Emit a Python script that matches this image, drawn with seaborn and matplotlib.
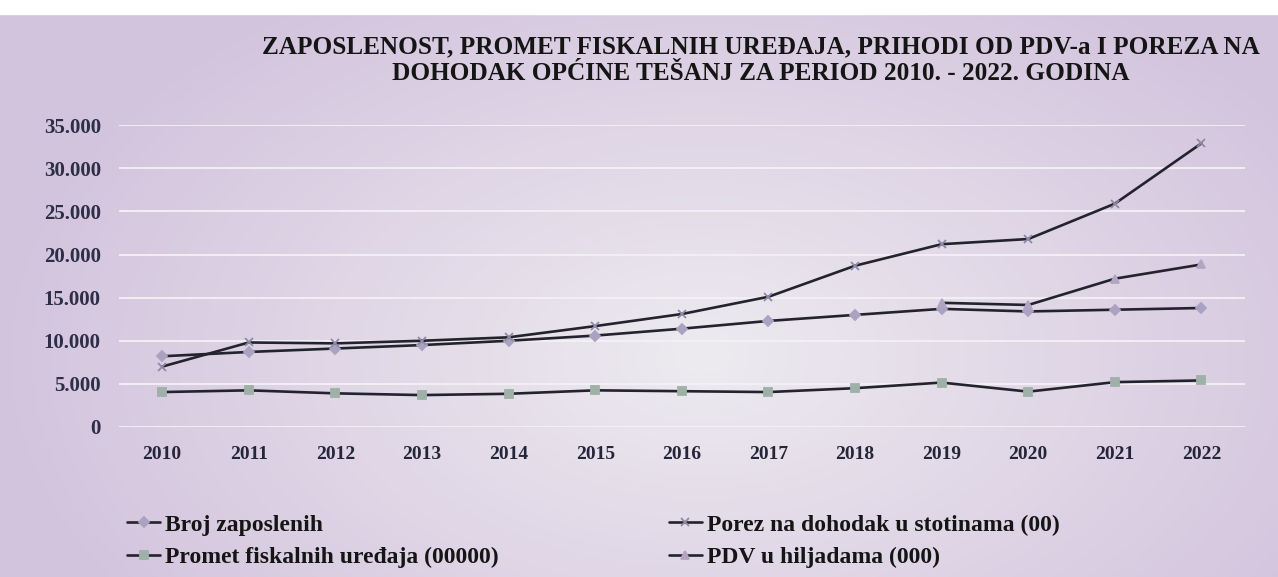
import numpy as np
import pandas as pd
import matplotlib
matplotlib.use('Agg')
import matplotlib.pyplot as plt
import seaborn as sns
from matplotlib.ticker import FuncFormatter, MultipleLocator

# ============================================================
# Podaci (očitano sa grafikona)
# ============================================================
godine = list(range(2010, 2023))
broj_zaposlenih = [8200, 8700, 9100, 9500, 10000, 10600, 11400, 12300, 13000, 13700, 13400, 13600, 13800]
promet_fiskalnih = [4050, 4250, 3900, 3700, 3850, 4250, 4150, 4050, 4500, 5150, 4100, 5200, 5400]
porez_dohodak = [7000, 9800, 9700, 10000, 10400, 11700, 13100, 15100, 18700, 21200, 21800, 25900, 32900]
pdv_hiljade = [np.nan] * 9 + [14400, 14150, 17200, 18850]

nazivi = ['Broj zaposlenih', 'Promet fiskalnih uređaja (00000)',
          'Porez na dohodak u stotinama (00)', 'PDV u hiljadama (000)']
naslov = ('ZAPOSLENOST, PROMET FISKALNIH UREĐAJA, PRIHODI OD PDV-a I POREZA NA\n'
          'DOHODAK OPĆINE TEŠANJ ZA PERIOD 2010. - 2022. GODINA')

df = pd.DataFrame({'godina': godine,
                   nazivi[0]: broj_zaposlenih,
                   nazivi[1]: promet_fiskalnih,
                   nazivi[2]: porez_dohodak,
                   nazivi[3]: pdv_hiljade})
long_df = df.melt(id_vars='godina', var_name='serija', value_name='vrijednost').dropna()
long_df['poz'] = long_df['godina'] - godine[0]

# ============================================================
# Stil
# ============================================================
sns.set_theme(style='white')
plt.rcParams['font.family'] = ['Liberation Serif', 'DejaVu Serif']

fig = plt.figure(figsize=(12.78, 5.77), dpi=100)

# pozadina (blijedo ljubičasta s svjetlijim središtem, kao na fotografiji)
bg = fig.add_axes([0, 0, 1, 1], zorder=-10)
yy, xx = np.mgrid[0:1:200j, 0:1:400j]
r = np.sqrt(((xx - 0.55) / 0.55) ** 2 + ((yy - 0.62) / 0.75) ** 2)
svijetlo = np.array([0.93, 0.92, 0.94])
tamno = np.array([0.83, 0.77, 0.87])
t = np.clip(r, 0, 1)[..., None]
bg.imshow(svijetlo * (1 - t) + tamno * t, aspect='auto', extent=[0, 1, 0, 1], origin='upper')
bg.axhspan(0.975, 1.0, color='white')
bg.set_xlim(0, 1); bg.set_ylim(0, 1)
bg.axis('off')

ax = fig.add_axes([0.093, 0.260, 0.881, 0.523])
ax.patch.set_alpha(0)

stilovi = {nazivi[0]: 'D', nazivi[1]: 's', nazivi[2]: 'x', nazivi[3]: '^'}
boje_markera = {nazivi[0]: '#a9a2c0', nazivi[1]: '#9fb0a8', nazivi[2]: '#8e8aa6', nazivi[3]: '#b3a4c4'}

for naziv in nazivi:
    sub = long_df[long_df['serija'] == naziv]
    sns.lineplot(data=sub, x='poz', y='vrijednost', ax=ax, color='#23232e', lw=1.9,
                 marker=stilovi[naziv], markersize=5.5, markerfacecolor=boje_markera[naziv],
                 markeredgecolor=boje_markera[naziv], markeredgewidth=1.3, label=naziv,
                 legend=False, zorder=3)

ax.set_xlim(-0.5, len(godine) - 0.5)
ax.set_ylim(0, 35000)
ax.yaxis.set_major_locator(MultipleLocator(5000))
ax.yaxis.set_major_formatter(FuncFormatter(lambda v, p: f'{int(v):,}'.replace(',', '.')))
ax.set_xticks(range(len(godine)))
ax.set_xticklabels([str(g) for g in godine])
ax.grid(axis='y', color='#f4f1f6', lw=1.3)
ax.grid(axis='x', visible=False)
for s in ax.spines.values():
    s.set_visible(False)
ax.tick_params(axis='y', length=0, pad=13, labelsize=15, labelcolor='#2e2e48')
ax.tick_params(axis='x', length=0, pad=14, labelsize=14, labelcolor='#26263a')
for lbl in ax.get_yticklabels() + ax.get_xticklabels():
    lbl.set_fontweight('bold')
ax.set_xlabel('')
ax.set_ylabel('')

fig.text(0.595, 0.896, naslov, ha='center', va='center', fontsize=18.2,
         fontweight='bold', color='#151515', linespacing=1.2)

handles, labels = ax.get_legend_handles_labels()
red = [labels.index(n) for n in nazivi]
leg = fig.legend([handles[i] for i in red], [labels[i] for i in red],
                 loc='lower left', bbox_to_anchor=(0.083, -0.021), ncol=2,
                 frameon=False, handlelength=1.4, handletextpad=0.2,
                 columnspacing=7.2, labelspacing=0.45,
                 prop={'weight': 'bold', 'size': 17})
for txt in leg.get_texts():
    txt.set_color('#151515')

fig.savefig('out.png', dpi=100)
